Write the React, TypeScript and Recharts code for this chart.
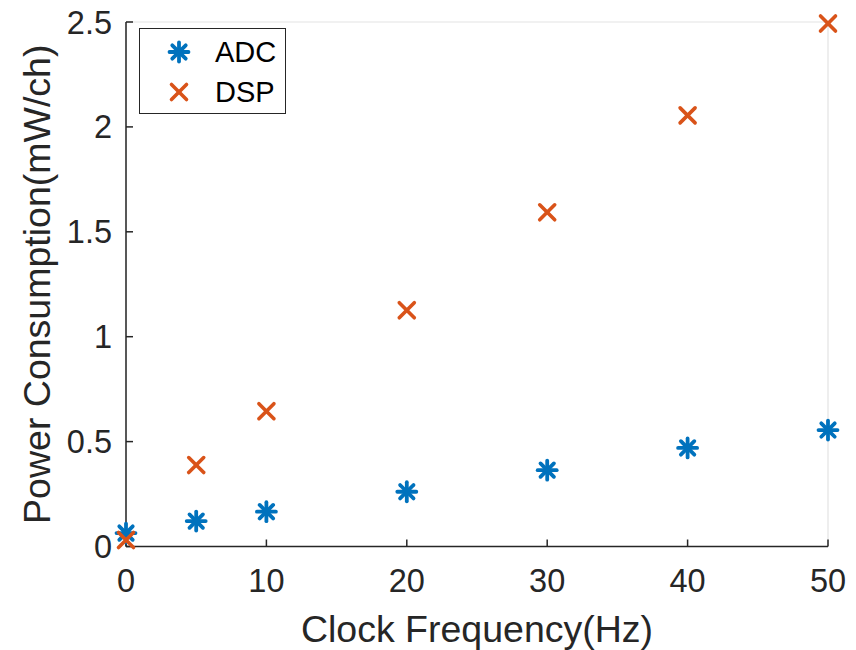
import { ScatterChart, Scatter, XAxis, YAxis, CartesianGrid, Legend, Label } from 'recharts'

const FREQ = [0, 5, 10, 20, 30, 40, 50]
const ADC = [0.064, 0.121, 0.166, 0.261, 0.364, 0.47, 0.555]
const DSP = [0.031, 0.388, 0.645, 1.126, 1.593, 2.055, 2.493]
const X_TICKS = [0, 10, 20, 30, 40, 50]
const Y_TICKS = [0, 0.5, 1, 1.5, 2, 2.5]

const BLUE = '#0072BD'
const ORANGE = '#D95319'
const INK = '#262626'
const FONT = '"Liberation Sans", Arial, sans-serif'

const adcData = FREQ.map((f, i) => ({ f, p: ADC[i] }))
const dspData = FREQ.map((f, i) => ({ f, p: DSP[i] }))

function Star({ cx, cy, r = 9.5 }: any) {
  const d = r * Math.SQRT1_2
  return (
    <g stroke={BLUE} strokeWidth={3.8} strokeLinecap="round">
      <line x1={cx - r} y1={cy} x2={cx + r} y2={cy} />
      <line x1={cx} y1={cy - r} x2={cx} y2={cy + r} />
      <line x1={cx - d} y1={cy - d} x2={cx + d} y2={cy + d} />
      <line x1={cx - d} y1={cy + d} x2={cx + d} y2={cy - d} />
    </g>
  )
}

function Cross({ cx, cy, r = 7.5 }: any) {
  return (
    <g stroke={ORANGE} strokeWidth={3.6} strokeLinecap="round">
      <line x1={cx - r} y1={cy - r} x2={cx + r} y2={cy + r} />
      <line x1={cx - r} y1={cy + r} x2={cx + r} y2={cy - r} />
    </g>
  )
}

function LegendBox() {
  const row = (marker: any, text: string) => (
    <div style={{ display: 'flex', alignItems: 'center', height: 40 }}>
      <svg width={40} height={30} style={{ marginLeft: 19 }}>
        {marker}
      </svg>
      <span style={{ marginLeft: 16, fontSize: 29, color: '#000' }}>{text}</span>
    </div>
  )
  return (
    <div
      style={{
        border: `1.5px solid ${INK}`,
        background: '#fff',
        width: 147,
        height: 86,
        boxSizing: 'border-box',
        fontFamily: FONT,
        paddingTop: 3,
      }}
    >
      {row(<Star cx={20} cy={15} />, 'ADC')}
      {row(<Cross cx={20} cy={15} />, 'DSP')}
    </div>
  )
}

const noTick = () => <g />

export default function App() {
  const tickStyle = { fontSize: 32.5, fill: INK, fontFamily: FONT }
  const titleStyle = { fontSize: 37.5, fill: INK, fontFamily: FONT }
  return (
    <div style={{ position: 'absolute', left: 0, top: 0, background: '#fff' }}>
      <ScatterChart width={856} height={650} margin={{ top: 22, right: 28, left: 0, bottom: 0 }}>
        <CartesianGrid stroke="#e3e3e3" strokeWidth={1.2} />
        <XAxis
          xAxisId="b"
          type="number"
          dataKey="f"
          domain={[0, 50]}
          ticks={X_TICKS}
          height={103.5}
          tickSize={-7}
          tickMargin={29.5}
          tick={tickStyle}
          axisLine={{ stroke: INK, strokeWidth: 1.5 }}
          tickLine={{ stroke: INK, strokeWidth: 1.5 }}
        >
          <Label value="Clock Frequency(Hz)" position="insideBottom" offset={8} style={titleStyle} />
        </XAxis>
        <XAxis
          xAxisId="t"
          orientation="top"
          type="number"
          dataKey="f"
          domain={[0, 50]}
          ticks={X_TICKS}
          height={0}
          tickSize={-7}
          tick={noTick}
          axisLine={{ stroke: INK, strokeWidth: 1.5 }}
          tickLine={{ stroke: INK, strokeWidth: 1.5 }}
        />
        <YAxis
          yAxisId="l"
          type="number"
          dataKey="p"
          domain={[0, 2.5]}
          ticks={Y_TICKS}
          width={126}
          tickSize={-7}
          tickMargin={21}
          tick={tickStyle}
          axisLine={{ stroke: INK, strokeWidth: 1.5 }}
          tickLine={{ stroke: INK, strokeWidth: 1.5 }}
        >
          <Label
            value="Power Consumption(mW/ch)"
            angle={-90}
            position="insideLeft"
            offset={37}
            style={{ ...titleStyle, textAnchor: 'middle' }}
          />
        </YAxis>
        <YAxis
          yAxisId="r"
          orientation="right"
          type="number"
          dataKey="p"
          domain={[0, 2.5]}
          ticks={Y_TICKS}
          width={0}
          tickSize={-7}
          tick={noTick}
          axisLine={{ stroke: INK, strokeWidth: 1.5 }}
          tickLine={{ stroke: INK, strokeWidth: 1.5 }}
        />
        <Legend
          layout="horizontal"
          verticalAlign="middle"
          align="center"
          content={<LegendBox />}
          wrapperStyle={{ left: 139, top: 28, width: 'auto', height: 'auto' }}
        />
        <Scatter
          name="ADC"
          data={adcData}
          xAxisId="b"
          yAxisId="l"
          shape={(p: any) => <Star cx={p.cx} cy={p.cy} />}
          isAnimationActive={false}
        />
        <Scatter
          name="DSP"
          data={dspData}
          xAxisId="b"
          yAxisId="l"
          shape={(p: any) => <Cross cx={p.cx} cy={p.cy} />}
          isAnimationActive={false}
        />
      </ScatterChart>
    </div>
  )
}
